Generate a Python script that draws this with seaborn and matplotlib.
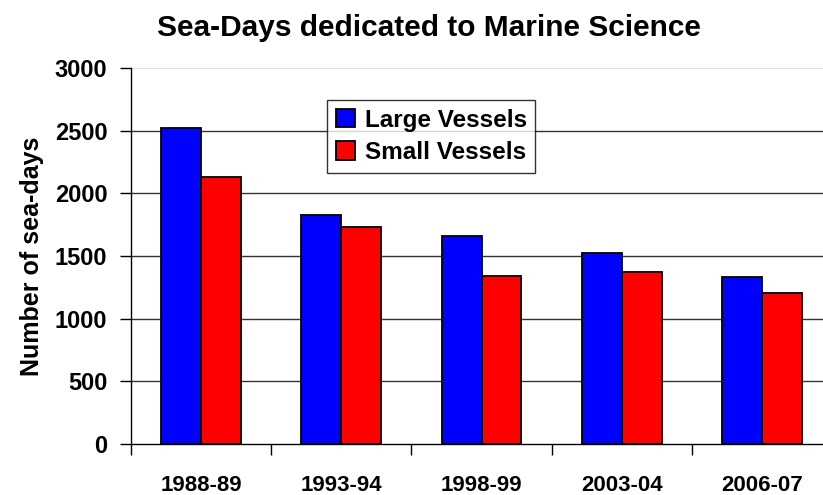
import numpy as np
import pandas as pd
import matplotlib
matplotlib.use('Agg')
import matplotlib.pyplot as plt
import seaborn as sns

# values
periods = ['1988-89', '1993-94', '1998-99', '2003-04', '2006-07']
large_vessels = [2525, 1825, 1657, 1527, 1330]
small_vessels = [2133, 1732, 1343, 1370, 1203]
series_names = ['Large Vessels', 'Small Vessels']
series_colors = ['#0000ff', '#ff0000']
y_ticks = [0, 500, 1000, 1500, 2000, 2500, 3000]

df = pd.DataFrame({
    'period': periods * 2,
    'series': [series_names[0]] * len(periods) + [series_names[1]] * len(periods),
    'days': large_vessels + small_vessels,
})

sns.set_style('white')
plt.rcParams['font.family'] = ['Liberation Sans', 'DejaVu Sans']
plt.rcParams['font.weight'] = 'bold'
plt.rcParams['text.color'] = 'black'
plt.rcParams['axes.labelcolor'] = 'black'
plt.rcParams['xtick.color'] = 'black'
plt.rcParams['ytick.color'] = 'black'

fig = plt.figure(figsize=(8.23, 4.95), dpi=100)
ax = fig.add_axes([131 / 823, 51 / 495, 701 / 823, 376 / 495])

sns.barplot(data=df, x='period', y='days', hue='series', order=periods,
            hue_order=series_names, palette=dict(zip(series_names, series_colors)),
            width=0.57, edgecolor='black', linewidth=1.3, saturation=1,
            ax=ax, zorder=3)

ax.set_ylim(0, 3000)
ax.set_xlim(-0.5, len(periods) - 0.5)
ax.set_yticks(y_ticks)
ax.set_yticklabels([str(t) for t in y_ticks], fontsize=17, fontweight='bold')
ax.set_xticks(range(len(periods)))
ax.set_xticklabels(periods, fontsize=16, fontweight='bold')
ax.set_xticks(np.arange(-0.5, len(periods) - 0.5, 1), minor=True)
ax.tick_params(axis='x', which='major', length=0, pad=22, bottom=True)
ax.tick_params(axis='x', which='minor', length=8, width=1, color='black',
               direction='out', bottom=True)
ax.tick_params(axis='y', length=8, width=1, color='black', direction='out',
               left=True, pad=9)

for t in y_ticks[1:-1]:
    ax.axhline(t, color='#333333', linewidth=1, zorder=1)
ax.axhline(3000, color='#e0e0c0', linewidth=1.2, zorder=1)

for side in ['top', 'right']:
    ax.spines[side].set_visible(False)
ax.spines['left'].set_color('black')
ax.spines['bottom'].set_color('black')
ax.spines['left'].set_linewidth(1)
ax.spines['bottom'].set_linewidth(1)

ax.set_xlabel('')
ax.set_ylabel('Number of sea-days', fontsize=18, fontweight='bold', labelpad=8)

fig.text(0.521, 0.943, 'Sea-Days dedicated to Marine Science', ha='center', va='center',
         fontsize=21.5, fontweight='bold')

leg = ax.legend(loc='upper left', bbox_to_anchor=((327 - 131) / 701, (444 - 100) / 376),
                fontsize=17.5, frameon=True, fancybox=False, edgecolor='black',
                handlelength=0.8, handleheight=0.8, handletextpad=0.4,
                borderpad=0.35, labelspacing=0.4, borderaxespad=0, title=None)
leg.get_frame().set_linewidth(1)
for txt in leg.get_texts():
    txt.set_fontweight('bold')

fig.savefig('out.png', dpi=100)
